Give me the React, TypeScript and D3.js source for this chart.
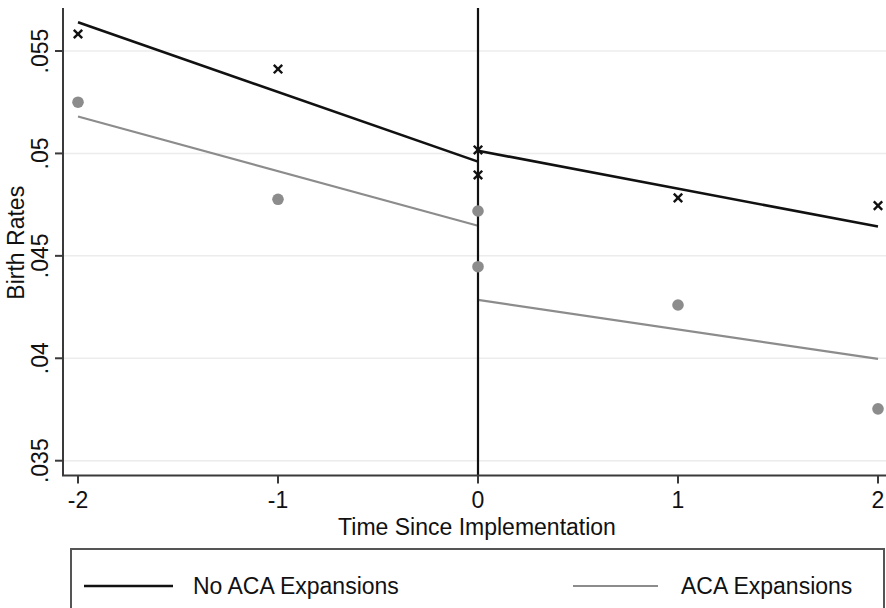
import React from "react";
import * as d3 from "d3";

const xTicks = [-2, -1, 0, 1, 2];
const yTicks = [0.035, 0.04, 0.045, 0.05, 0.055];
const yTickLabels = [".035", ".04", ".045", ".05", ".055"];

// observed points
const noAcaX = [-2, -1, 0, 0, 1, 2];
const noAcaY = [0.05583, 0.05412, 0.05017, 0.04895, 0.04783, 0.04745];
const acaX = [-2, -1, 0, 0, 1, 2];
const acaY = [0.0525, 0.04776, 0.04719, 0.04447, 0.0426, 0.03753];

// fitted segments [x0, y0, x1, y1]
const noAcaPreFit = [-2, 0.0564, 0, 0.0496];
const noAcaPostFit = [0, 0.05013, 2, 0.04643];
const acaPreFit = [-2, 0.0518, 0, 0.04647];
const acaPostFit = [0, 0.04285, 2, 0.03997];

const legendLabels = ["No ACA Expansions", "ACA Expansions"];

const W = 886;
const H = 608;
const FONT = "'Liberation Sans', Arial, Helvetica, sans-serif";
const FS = 23;

export default function App() {
  const x = d3.scaleLinear().domain([-2, 2]).range([78, 878]);
  const y = d3.scaleLinear().domain([0.035, 0.055]).range([460.7, 51]);
  const plotLeft = 63;
  const plotRight = 886;
  const plotTop = 8;
  const plotBottom = 475.5;

  const line = d3
    .line<[number, number]>()
    .x((d) => x(d[0]))
    .y((d) => y(d[1]));
  const seg = (s: number[]) =>
    line([
      [s[0], s[1]],
      [s[2], s[3]],
    ]) as string;

  const black = "#111";
  const gray = "#8c8c8c";
  const axisColor = "#3a3a3a";

  return (
    <svg
      width={W}
      height={H}
      style={{ position: "absolute", left: 0, top: 0, background: "#fff" }}
      fontFamily={FONT}
    >
      <rect x={0} y={0} width={W} height={H} fill="#fff" />
      {/* gridlines */}
      {yTicks.map((t) => (
        <line
          key={"g" + t}
          x1={plotLeft}
          x2={plotRight}
          y1={y(t)}
          y2={y(t)}
          stroke="#ececec"
          strokeWidth={1.5}
        />
      ))}
      {/* fitted lines */}
      <path d={seg(acaPreFit)} stroke={gray} strokeWidth={2.2} fill="none" />
      <path d={seg(acaPostFit)} stroke={gray} strokeWidth={2.2} fill="none" />
      <path d={seg(noAcaPreFit)} stroke={black} strokeWidth={2.6} fill="none" />
      <path d={seg(noAcaPostFit)} stroke={black} strokeWidth={2.6} fill="none" />
      {/* vertical line at 0 */}
      <line
        x1={x(0)}
        x2={x(0)}
        y1={plotTop}
        y2={plotBottom}
        stroke={black}
        strokeWidth={2.2}
      />
      {/* ACA points */}
      {acaX.map((v, i) => (
        <circle key={"c" + i} cx={x(v)} cy={y(acaY[i])} r={5.8} fill={gray} />
      ))}
      {/* No ACA points */}
      {noAcaX.map((v, i) => {
        const cx = x(v);
        const cy = y(noAcaY[i]);
        const s = 4.2;
        return (
          <g key={"x" + i} stroke={black} strokeWidth={2.4}>
            <line x1={cx - s} y1={cy - s} x2={cx + s} y2={cy + s} />
            <line x1={cx - s} y1={cy + s} x2={cx + s} y2={cy - s} />
          </g>
        );
      })}
      {/* axes */}
      <line
        x1={plotLeft}
        x2={plotLeft}
        y1={plotTop}
        y2={plotBottom}
        stroke={axisColor}
        strokeWidth={2}
      />
      <line
        x1={plotLeft - 1}
        x2={plotRight}
        y1={plotBottom}
        y2={plotBottom}
        stroke={axisColor}
        strokeWidth={2}
      />
      {yTicks.map((t, i) => (
        <g key={"yt" + t}>
          <line
            x1={plotLeft - 8}
            x2={plotLeft}
            y1={y(t)}
            y2={y(t)}
            stroke={axisColor}
            strokeWidth={2}
          />
          <text
            transform={`translate(48,${y(t)}) rotate(-90)`}
            textAnchor="middle"
            fontSize={FS}
            fill="#111"
          >
            {yTickLabels[i]}
          </text>
        </g>
      ))}
      {xTicks.map((t) => (
        <g key={"xt" + t}>
          <line
            x1={x(t)}
            x2={x(t)}
            y1={plotBottom}
            y2={plotBottom + 8}
            stroke={axisColor}
            strokeWidth={2}
          />
          <text x={x(t)} y={508} textAnchor="middle" fontSize={FS} fill="#111">
            {t}
          </text>
        </g>
      ))}
      {/* axis titles */}
      <text
        transform={`translate(24,${(plotTop + plotBottom) / 2 + 1}) rotate(-90)`}
        textAnchor="middle"
        fontSize={FS}
        fill="#111"
      >
        Birth Rates
      </text>
      <text x={477} y={535} textAnchor="middle" fontSize={FS} fill="#111">
        Time Since Implementation
      </text>
      {/* legend */}
      <rect
        x={71}
        y={549}
        width={813}
        height={80}
        fill="#fff"
        stroke="#555"
        strokeWidth={2}
      />
      <line x1={84} x2={173} y1={586} y2={586} stroke={black} strokeWidth={2.6} />
      <text x={193} y={594} fontSize={FS} fill="#111">
        {legendLabels[0]}
      </text>
      <line x1={573} x2={658} y1={586} y2={586} stroke={gray} strokeWidth={2.2} />
      <text x={681} y={594} fontSize={FS} fill="#111">
        {legendLabels[1]}
      </text>
    </svg>
  );
}
